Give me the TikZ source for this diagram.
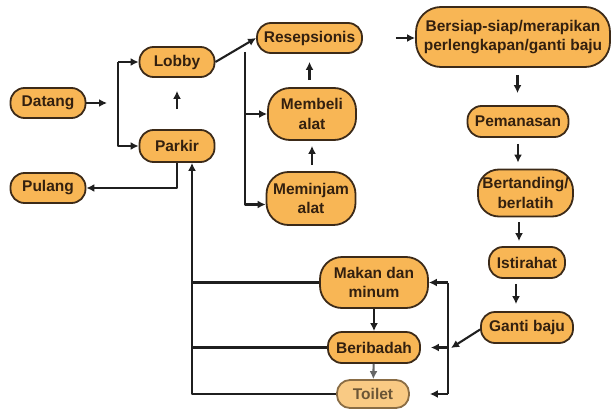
\documentclass[tikz,border=0pt]{standalone}
\usepackage{fontspec}
\setmainfont{Liberation Sans}
\usetikzlibrary{arrows.meta}
\definecolor{boxfill}{HTML}{F8B655}
\definecolor{boxline}{HTML}{3C2A18}
\definecolor{boxtext}{HTML}{33200F}
\definecolor{fadefill}{HTML}{F9CA84}
\definecolor{fadeline}{HTML}{8A6D45}
\definecolor{fadetext}{HTML}{6B5536}
\begin{document}
\begin{tikzpicture}[x=1pt,y=-1pt,line join=round,
	box/.style={draw=boxline,fill=boxfill,text=boxtext,line width=1.8pt,rounded corners=#1,
		inner sep=0pt,align=center,font=\bfseries\fontsize{15.5}{19.5}\selectfont},
	box/.default=14pt,
	link/.style={line width=2.1pt,draw=black!88},
	arr/.style={link,-{Latex[length=8pt,width=8pt]}}]
	\useasboundingbox (0,0) rectangle (612,412);
	% left part
	\node[box,minimum width=75pt,minimum height=30pt] (datang) at (48,103) {Datang};
	\node[box,minimum width=75pt,minimum height=30pt] (pulang) at (48,188) {Pulang};
	\node[box,minimum width=75pt,minimum height=30pt] (lobby) at (177,62) {Lobby};
	\node[box,minimum width=75pt,minimum height=32pt] (parkir) at (177,146) {Parkir};
	\node[box,minimum width=105pt,minimum height=30pt] (resep) at (309.5,38) {Resepsionis};
	\node[box=22pt,minimum width=88pt,minimum height=52pt] (membeli) at (312,114) {Membeli\\alat};
	\node[box=22pt,minimum width=89pt,minimum height=53pt] (meminjam) at (311,198.5) {Meminjam\\alat};
	% right column
	\node[box=25pt,minimum width=194pt,minimum height=60pt] (bersiap) at (513,37) {Bersiap-siap/merapikan\\perlengkapan/ganti baju};
	\node[box,minimum width=101pt,minimum height=31pt] (pemanasan) at (518,121.5) {Pemanasan};
	\node[box=21pt,minimum width=95pt,minimum height=47pt] (bertanding) at (525.5,193) {Bertanding/\\berlatih};
	\node[box,minimum width=76pt,minimum height=31pt] (istirahat) at (527,262.5) {Istirahat};
	\node[box,minimum width=92pt,minimum height=31pt] (ganti) at (527,327.5) {Ganti baju};
	% bottom
	\node[box=22pt,minimum width=108pt,minimum height=51pt] (makan) at (374,282.5) {Makan dan\\minum};
	\node[box,minimum width=92pt,minimum height=31pt] (ibadah) at (374,347.5) {Beribadah};
	\node[box=13pt,draw=fadeline,fill=fadefill,text=fadetext,minimum width=72pt,minimum height=28pt] (toilet) at (373,394) {Toilet};
	\path
	(118,103)coordinate(fork)
	(245,52)coordinate(trunk)
	(448,348)coordinate(rtrunk)
	([xshift=15pt]parkir.south)coordinate(back)
	;
	\draw[arr,shorten >=11pt] (datang.east) -- (fork);
	\draw[arr] (fork |- lobby.west) -- (lobby.west);
	\draw[arr] (fork |- lobby.west) |- (parkir.west);
	\draw[arr] (lobby.east) -- (resep.west);
	\draw[arr] (trunk) |- ([yshift=-6pt]meminjam.west);
	\draw[arr] (trunk |- membeli.west) -- (membeli.west);
	\draw[arr,shorten <=33pt] (resep.east) -- (resep.east -| bersiap.west);
	\foreach \a/\b/\s/\e in {parkir/lobby/20/13,membeli/resep/7/8,meminjam/membeli/6/5}
		\draw[arr,shorten <=\s pt,shorten >=\e pt] (\a.north -| \b.south) -- (\b.south);
	\foreach \a/\b/\d/\s/\e in {bersiap/pemanasan/4.5/7/12,pemanasan/bertanding/0/6/6,bertanding/istirahat/-6.5/5/5,istirahat/ganti/-11/5/7}
		\draw[arr,shorten <=\s pt,shorten >=\e pt] ([xshift=\d pt]\a.south) -- ([xshift=\d pt]\a.south |- \b.north);
	\draw[arr] ([yshift=-2pt]ganti.west) -- ([xshift=3pt]rtrunk);
	\draw[link] (rtrunk |- makan.east) -- (rtrunk |- toilet.east);
	\foreach \n/\s in {makan/0,ibadah/10,toilet/20}
		\draw[arr,shorten >=\s pt] (rtrunk |- \n.east) -- (\n.east);
	\draw[arr] (makan) -- (ibadah);
	\draw[arr,draw=black!60] (ibadah) -- (toilet);
	\foreach \n in {makan,ibadah}
		\draw[link] (\n.west) -- (\n.west -| back);
	\draw[arr] (toilet.west) -| (back);
	\draw[arr] (parkir.south) |- (pulang.east);
\end{tikzpicture}
\end{document}
